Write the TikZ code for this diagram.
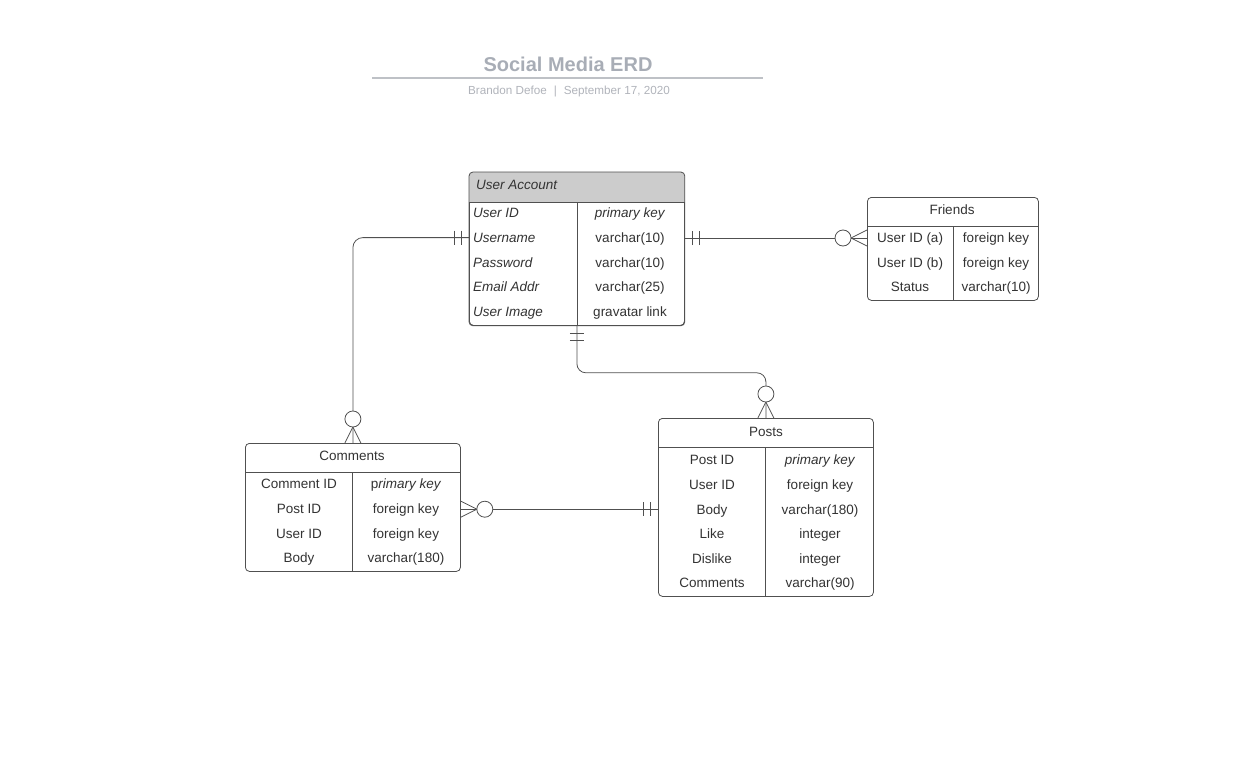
\documentclass[tikz,border=0pt]{standalone}
\usepackage{fontspec}
\setmainfont{Liberation Sans}
\usetikzlibrary{positioning}
\usetikzlibrary{decorations.markings}
\definecolor{titlegray}{RGB}{168,173,182}
\definecolor{subgray}{RGB}{176,179,186}
\definecolor{rulegray}{RGB}{190,193,198}
\definecolor{hdrgray}{RGB}{204,204,204}
\definecolor{ink}{RGB}{51,51,51}
\definecolor{edge}{RGB}{80,80,80}
\begin{document}
\begin{tikzpicture}[x=1pt,y=-1pt,
  every node/.style={font=\fontsize{13.5}{16}\selectfont,text=ink,inner sep=0pt,text height=9.7pt,text depth=0pt},
  tbl/.style={draw=edge,line width=0.8pt,rounded corners=4pt,anchor=north west,fill=white},
  rel/.style={draw=edge,line width=0.8pt},
  onlyone/.style={postaction={decorate,decoration={markings,
    mark=at position 8pt with {\draw[edge,line width=0.8pt] (0pt,-7pt) -- (0pt,7pt);},
    mark=at position 15pt with {\draw[edge,line width=0.8pt] (0pt,-7pt) -- (0pt,7pt);}}}},
  zeromany/.style={postaction={decorate,decoration={markings,
    mark=at position -16pt with {\draw[edge,line width=0.8pt] (0pt,0pt) -- (16pt,-8pt) (0pt,0pt) -- (16pt,8pt);
      \draw[edge,line width=0.8pt,fill=white] (-8pt,0pt) circle (8pt);}}}}]
  \useasboundingbox (0,0) rectangle (1241,757);
  \node[font=\fontsize{20}{24}\selectfont\bfseries,text=titlegray,text height=14.3pt] (title) at (568,64.5) {Social Media ERD};
  \draw[rulegray,line width=1.5pt] (372,78) -- (763,78);
  \node[font=\fontsize{11.7}{14}\selectfont,text=subgray,text height=8.4pt] (sub) at (569,90.5) {Brandon Defoe\hspace{7pt}|\hspace{7pt}September 17, 2020};
  % user account
  \node[tbl,minimum width=215pt,minimum height=153pt] (ua) at (469,172) {};
  \begin{scope}
    \clip[rounded corners=4pt] (ua.north west) rectangle (ua.south east);
    \fill[hdrgray] (ua.north west) rectangle ([yshift=-30pt]ua.north east);
  \end{scope}
  \draw[edge,line width=0.8pt,rounded corners=4pt] (ua.north west) rectangle (ua.south east);
  \draw[edge,line width=0.8pt] ([yshift=-30pt]ua.north west) -- ([yshift=-30pt]ua.north east);
  \draw[edge,line width=0.8pt] (577,202) -- (577,325);
  \node[anchor=west] (ua-h) at (476,185) {\textit{User Account}};
  \foreach \n/\t [count=\i] in {User ID/\textit{primary key},Username/varchar(10),Password/varchar(10),Email Addr/varchar(25),User Image/gravatar link}{
    \node[anchor=west] (ua-n\i) at (473,{213+24.6*(\i-1)}) {\textit{\n}};
    \node (ua-t\i) at (630,{213+24.6*(\i-1)}) {\t};
  }
  % friends
  \node[tbl,minimum width=171pt,minimum height=103pt] (fr) at (867,197) {};
  \draw[edge,line width=0.8pt] ([yshift=-29pt]fr.north west) -- ([yshift=-29pt]fr.north east);
  \draw[edge,line width=0.8pt] (953,226) -- (953,300);
  \node (fr-h) at (952,210) {Friends};
  \foreach \n/\t [count=\i] in {User ID (a)/foreign key,User ID (b)/foreign key,Status/varchar(10)}{
    \node (fr-n\i) at (910,{238+24.5*(\i-1)}) {\n};
    \node (fr-t\i) at (996,{238+24.5*(\i-1)}) {\t};
  }
  % comments
  \node[tbl,minimum width=215pt,minimum height=128pt] (cm) at (245,443) {};
  \draw[edge,line width=0.8pt] ([yshift=-29pt]cm.north west) -- ([yshift=-29pt]cm.north east);
  \draw[edge,line width=0.8pt] (352.5,472) -- (352.5,571);
  \node (cm-h) at (352,456) {Comments};
  \foreach \n/\t [count=\i] in {Comment ID/{p\textit{rimary key}},Post ID/foreign key,User ID/foreign key,Body/varchar(180)}{
    \node (cm-n\i) at (299,{484+24.6*(\i-1)}) {\n};
    \node (cm-t\i) at (406,{484+24.6*(\i-1)}) {\t};
  }
  % posts
  \node[tbl,minimum width=215pt,minimum height=178pt] (ps) at (658,418) {};
  \draw[edge,line width=0.8pt] ([yshift=-29pt]ps.north west) -- ([yshift=-29pt]ps.north east);
  \draw[edge,line width=0.8pt] (765.5,447) -- (765.5,596);
  \node (ps-h) at (766,432) {Posts};
  \foreach \n/\t [count=\i] in {Post ID/\textit{primary key},User ID/foreign key,Body/varchar(180),Like/integer,Dislike/integer,Comments/varchar(90)}{
    \node (ps-n\i) at (712,{460+24.6*(\i-1)}) {\n};
    \node (ps-t\i) at (820,{460+24.6*(\i-1)}) {\t};
  }
  % relations
  \draw[rel,rounded corners=10pt,onlyone,zeromany] (ua.west |- ua-n2) -| (cm.north);
  \draw[rel,onlyone,zeromany] (ua.east |- fr-n1) -- (fr.west |- fr-n1);
  \draw[rel,rounded corners=9pt,onlyone,zeromany] (ua.south) -- ([yshift=-47pt]ua.south) -| (ps.north);
  \draw[rel,onlyone,zeromany] (ps.west |- ps-n3) -- (cm.east |- ps-n3);
\end{tikzpicture}
\end{document}
